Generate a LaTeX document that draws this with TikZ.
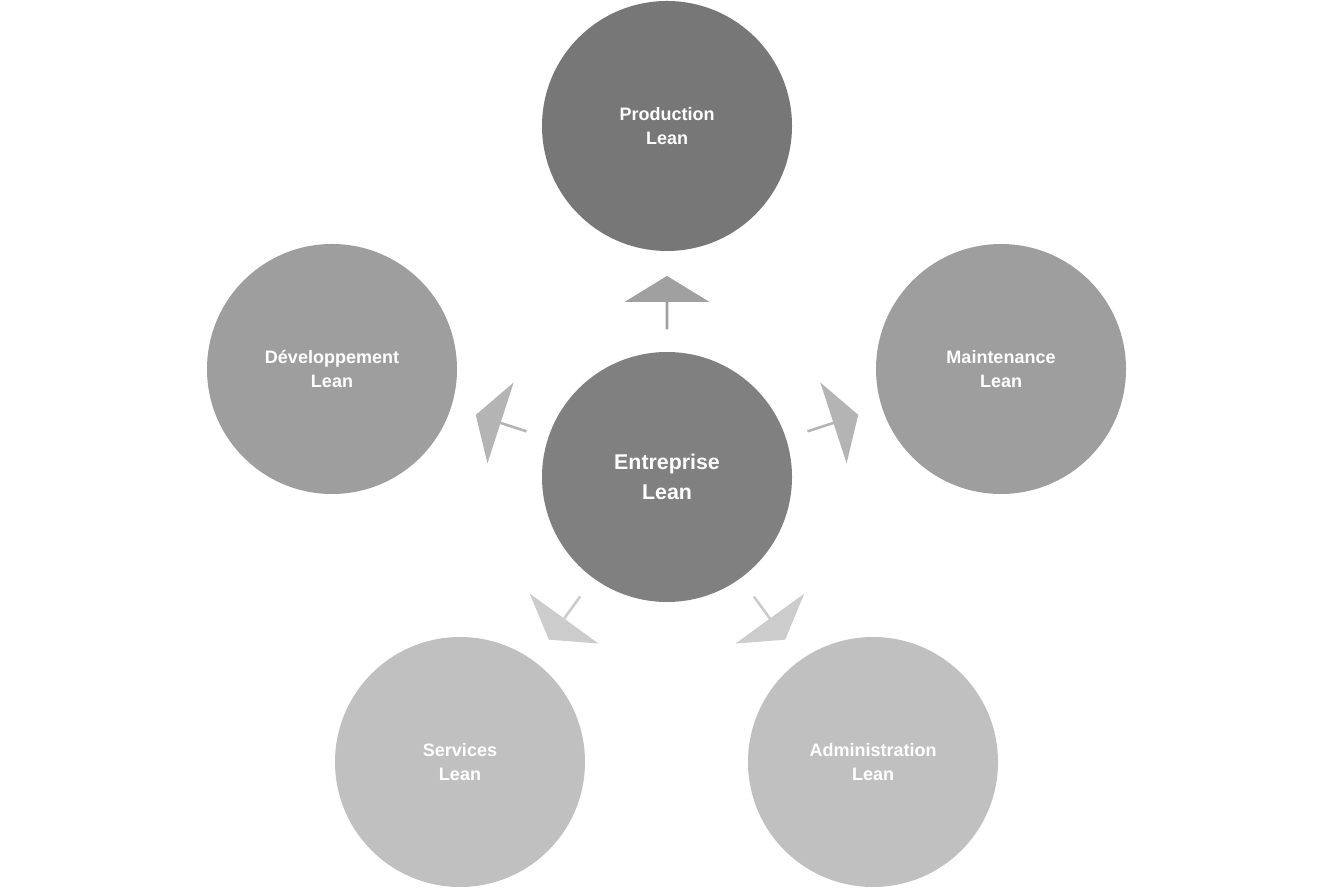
\documentclass[tikz,border=0pt]{standalone}
\usepackage{fontspec}
\setmainfont{Liberation Sans}
\usetikzlibrary{shapes.arrows}
\tikzset{every picture/.style={line width=0.75pt}}
\tikzset{
  lean/.style={circle, minimum size=187.5pt, inner sep=0pt, text=white, align=center, font=\bfseries\fontsize{13.5}{18}\selectfont},
  push/.style={single arrow, minimum width=63.75pt, minimum height=40pt, single arrow head extend=12pt, single arrow tip angle=117, inner sep=0pt, draw=none}
}
\definecolor{gcenter}{RGB}{128,128,128}
\definecolor{gtop}{RGB}{119,119,119}
\definecolor{gmid}{RGB}{158,158,158}
\definecolor{glow}{RGB}{192,192,192}
\definecolor{atop}{RGB}{160,160,160}
\definecolor{amid}{RGB}{180,180,180}
\definecolor{alow}{RGB}{204,204,204}

\begin{document}
\begin{tikzpicture}[x=0.75pt,y=0.75pt]
\useasboundingbox (0,0) rectangle (1334,889);

%Shape: Circle (centre)
\node[lean, fill=gcenter, font=\bfseries\fontsize{16}{22}\selectfont] (ent) at (667,412) {Entreprise\\Lean};
%Shape: Circles (outer ring)
\node[lean, fill=gtop] (prod) at (667,763) {Production\\Lean};
\node[lean, fill=gmid] (dev) at (332,520) {Développement\\Lean};
\node[lean, fill=gmid] (maint) at (1001,520) {Maintenance\\Lean};
\node[lean, fill=glow] (serv) at (460,127) {Services\\Lean};
\node[lean, fill=glow] (admin) at (873,127) {Administration\\Lean};

%Block arrows
\node[push, fill=atop, rotate=90] (aprod) at ([shift={(90:174)}]ent) {};
\node[push, fill=amid, rotate=162] (adev) at ([shift={(162:174)}]ent) {};
\node[push, fill=amid, rotate=18] (amaint) at ([shift={(18:174)}]ent) {};
\node[push, fill=alow, rotate=234] (aserv) at ([shift={(234:174)}]ent) {};
\node[push, fill=alow, rotate=306] (aadmin) at ([shift={(306:174)}]ent) {};

\end{tikzpicture}
\end{document}
